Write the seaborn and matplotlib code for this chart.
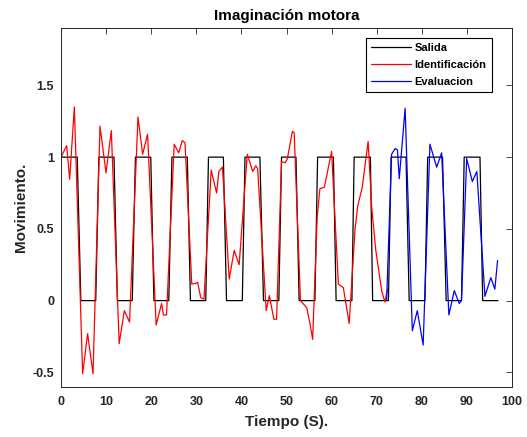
import matplotlib
matplotlib.use("Agg")
import matplotlib.pyplot as plt
import seaborn as sns
import pandas as pd

# ---- data ----
salida_t = [0, 3.6, 4.4, 7.7, 8.4, 11.75, 12.5, 15.8, 16.5, 19.9, 20.6, 23.9,
            24.6, 28.0, 28.7, 32.1, 32.7, 36.0, 36.7, 40.2, 40.8, 44.1, 44.9, 48.3,
            48.9, 52.1, 52.8, 56.3, 56.9, 60.4, 61.0, 64.5, 65.0, 68.6, 69.1, 72.6,
            73.2, 76.5, 77.2, 80.7, 81.3, 84.6, 85.4, 88.8, 89.4, 92.9, 93.5, 96.9]
salida_v = [1, 1, 0, 0, 1, 1, 0, 0, 1, 1, 0, 0,
            1, 1, 0, 0, 1, 1, 0, 0, 1, 1, 0, 0,
            1, 1, 0, 0, 1, 1, 0, 0, 1, 1, 0, 0,
            1, 1, 0, 0, 1, 1, 0, 0, 1, 1, 0, 0]

ident_t = [0, 1.26, 1.92, 2.96, 4.8, 5.9, 7.1, 8.65, 9.98, 11.16, 12.9, 14.04,
           15.2, 17.07, 18.1, 19.2, 21.1, 22.3, 22.7, 23.4, 25.1, 26.1, 26.9, 27.5,
           29.0, 29.9, 30.3, 31.0, 31.7, 33.3, 34.5, 35.0, 35.8, 37.3, 38.4, 39.5,
           41.3, 42.5, 43.2, 43.6, 45.5, 46.2, 47.2, 47.8, 48.9, 49.7, 50.2, 51.3,
           51.7, 53.1, 54.5, 55.2, 55.8, 56.8, 57.4, 58.4, 60.0, 61.5, 62.6, 63.9,
           65.2, 65.8, 66.8, 68.1, 68.9, 69.8, 71.1, 71.8, 72.4]
ident_v = [1.0, 1.08, 0.845, 1.35, -0.51, -0.23, -0.51, 1.215, 0.89, 1.185, -0.30, -0.07,
           -0.15, 1.28, 1.02, 1.16, -0.17, -0.02, -0.10, -0.10, 1.09, 1.03, 1.115, 1.10,
           0.115, 0.12, 0.127, 0.02, 0.01, 0.91, 0.75, 0.90, 0.93, 0.15, 0.35, 0.25,
           1.02, 0.90, 0.94, 0.92, -0.07, 0.035, -0.13, -0.13, 0.97, 0.96, 0.99, 1.18,
           1.17, 0.0, -0.05, -0.16, -0.27, 0.58, 0.78, 0.79, 1.04, 0.115, 0.09, -0.16,
           0.50, 0.66, 0.79, 1.11, 0.65, 0.35, 0.07, -0.01, 0.08]

eval_t = [72.2, 73.3, 74.1, 74.6, 75.0, 76.3, 77.9, 79.0, 80.3, 81.8, 83.3, 84.4,
          86.0, 87.2, 88.3, 88.8, 89.95, 91.2, 92.2, 94.0, 95.3, 96.2, 96.8]
eval_v = [0.0, 1.02, 1.06, 1.05, 0.85, 1.34, -0.21, -0.07, -0.31, 1.09, 0.93, 1.03,
          -0.10, 0.07, -0.02, 0.0, 0.99, 0.83, 0.90, 0.03, 0.16, 0.08, 0.28]

x_ticks = [0, 10, 20, 30, 40, 50, 60, 70, 80, 90, 100]
y_ticks = [-0.5, 0, 0.5, 1, 1.5]
y_tick_labels = ["-0.5", "0", "0.5", "1", "1.5"]

# ---- style ----
sns.set_theme(style="white")
plt.rcParams["font.family"] = ["Liberation Sans", "DejaVu Sans"]
plt.rcParams["font.weight"] = "bold"
dark = "#262626"

fig = plt.figure(figsize=(5.27, 4.37), dpi=100)
ax = fig.add_axes([61 / 527, 1 - 386.7 / 437, 451 / 527, (386.7 - 28) / 437])

sns.lineplot(x=salida_t, y=salida_v, sort=False, estimator=None, color="black",
             lw=0.9, label="Salida", ax=ax)
sns.lineplot(x=ident_t, y=ident_v, sort=False, estimator=None, color="#ff0000",
             lw=0.9, label="Identificación", ax=ax)
sns.lineplot(x=eval_t, y=eval_v, sort=False, estimator=None, color="#0000ff",
             lw=0.9, label="Evaluacion", ax=ax)

ax.set_xlim(0, 100)
ax.set_ylim(-0.6, 1.9)
ax.set_xticks(x_ticks)
ax.set_xticklabels([str(v) for v in x_ticks])
ax.set_yticks(y_ticks)
ax.set_yticklabels(y_tick_labels)

for s in ax.spines.values():
    s.set_visible(True)
    s.set_color(dark)
    s.set_linewidth(0.7)

ax.tick_params(axis="both", direction="in", top=True, right=True, length=4,
               width=0.6, color=dark, labelcolor=dark, labelsize=9)
ax.tick_params(axis="x", pad=7)
ax.tick_params(axis="y", pad=5)
for lab in ax.get_xticklabels() + ax.get_yticklabels():
    lab.set_fontweight("bold")

ax.set_xlabel("Tiempo (S).", fontsize=11, fontweight="bold", color=dark, labelpad=5)
ax.set_ylabel("Movimiento.", fontsize=11, fontweight="bold", color=dark, labelpad=3)
ax.set_title("Imaginación motora", fontsize=11, fontweight="bold", color="black", pad=6)

leg = ax.legend(loc="upper right", bbox_to_anchor=(0.955, 0.972), borderaxespad=0,
                fancybox=False, framealpha=1, edgecolor="black",
                handlelength=3.6, handletextpad=0.3, borderpad=0.45, labelspacing=0.62,
                prop={"weight": "bold", "size": 8})
leg.get_frame().set_linewidth(0.8)
for line in leg.get_lines():
    line.set_linewidth(0.9)
for txt in leg.get_texts():
    txt.set_color("black")

fig.savefig("out.png", dpi=100)
